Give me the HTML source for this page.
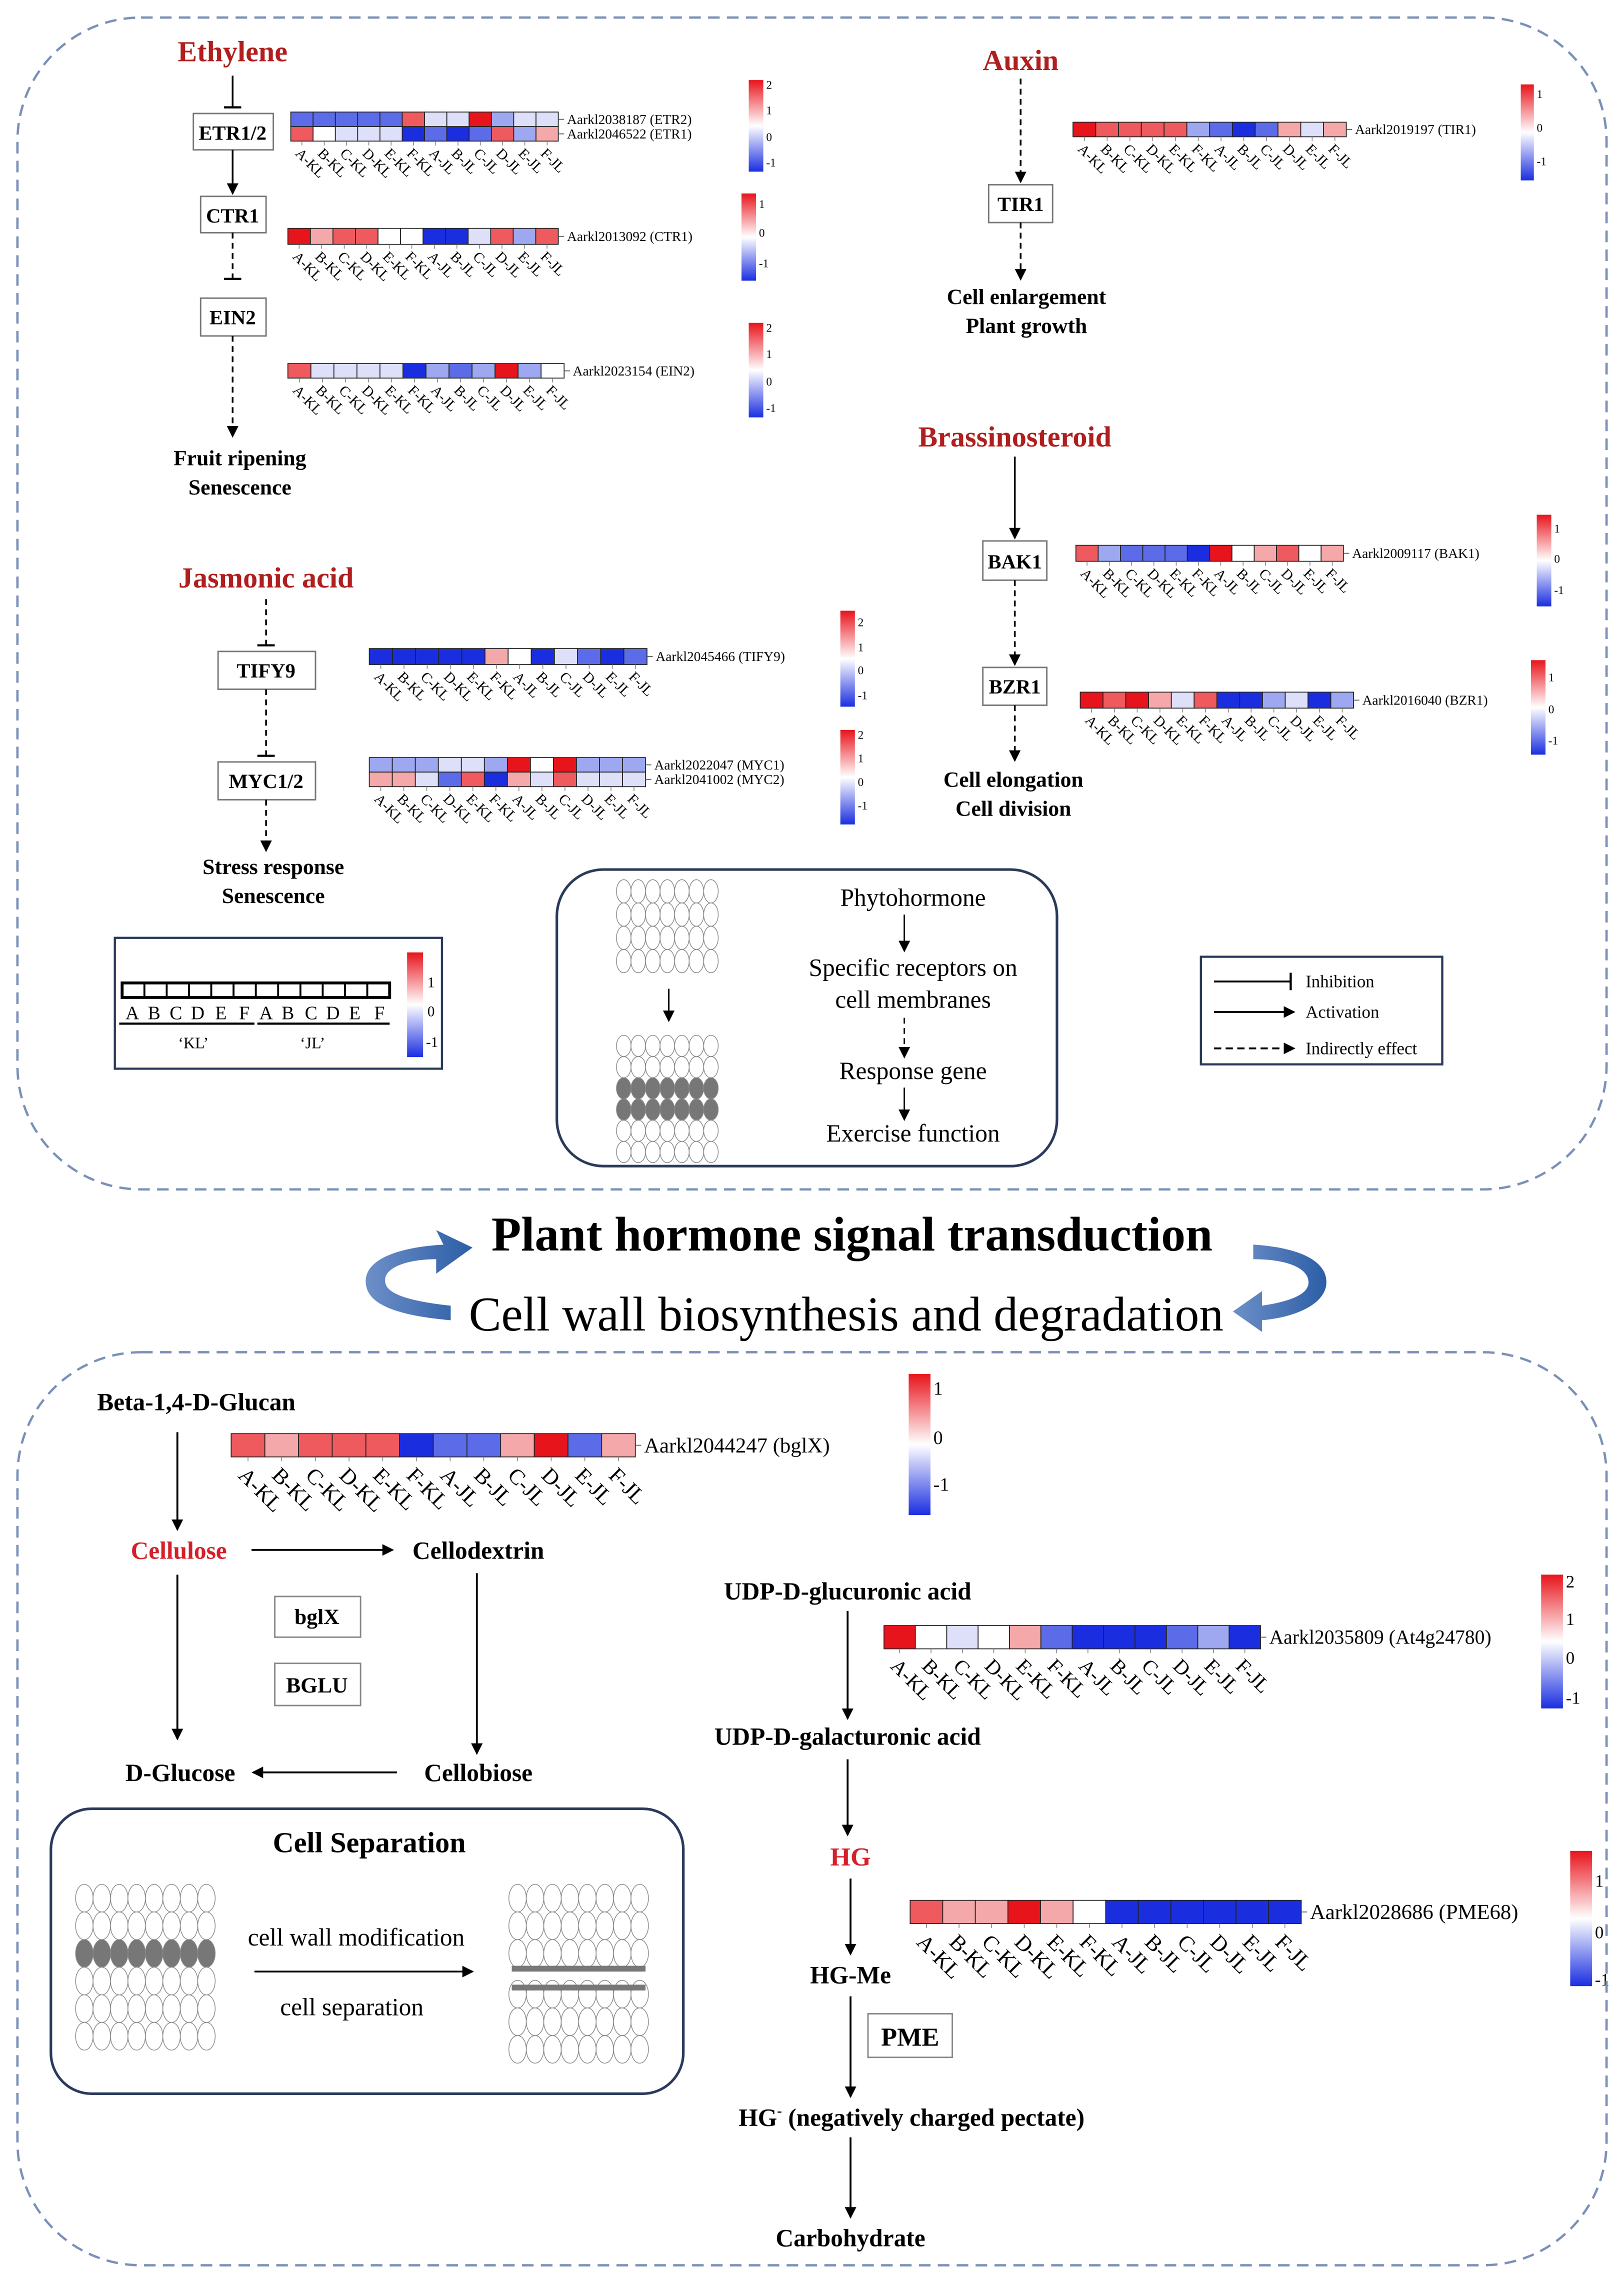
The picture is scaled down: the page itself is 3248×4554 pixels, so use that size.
<!DOCTYPE html>
<html><head><meta charset="utf-8"><style>
html,body{margin:0;padding:0;background:#fff;}
svg{display:block;}
text{font-family:"Liberation Serif",serif;}
.b{font-weight:bold;}
</style></head><body>
<svg id="s" width="3248" height="4554" viewBox="0 0 1117 1566" xmlns="http://www.w3.org/2000/svg">
<defs>
<marker id="ar" markerWidth="8" markerHeight="8" refX="7" refY="4" orient="auto" markerUnits="userSpaceOnUse"><path d="M0,0 L8,4 L0,8 z" fill="#000"/></marker>
<marker id="tb" markerWidth="2" markerHeight="12" refX="1" refY="6" orient="auto" markerUnits="userSpaceOnUse"><rect x="0" y="0" width="1.5" height="12" fill="#000"/></marker>
<linearGradient id="cg" x1="0" y1="0" x2="0" y2="1"><stop offset="0" stop-color="#e8141c"/><stop offset="0.5" stop-color="#ffffff"/><stop offset="1" stop-color="#1a2ee0"/></linearGradient>
<linearGradient id="bl" x1="0" y1="0" x2="1" y2="0"><stop offset="0" stop-color="#6d8fc8"/><stop offset="1" stop-color="#2c5ea6"/></linearGradient>
</defs>
<g id="hm"></g>
<rect x="12" y="12" width="1093" height="806" rx="85" fill="none" stroke="#7a90b8" stroke-width="1.6" stroke-dasharray="8,5"/>
<rect x="12" y="930" width="1093" height="628" rx="85" fill="none" stroke="#7a90b8" stroke-width="1.6" stroke-dasharray="8,5"/>

<g font-size="15" text-anchor="middle" class="b">
<text x="160" y="42" fill="#b01e1e" font-size="20" class="b">Ethylene</text>
<text x="702" y="48" fill="#b01e1e" font-size="20" class="b">Auxin</text>
<text x="698" y="307" fill="#b01e1e" font-size="20" class="b">Brassinosteroid</text>
<text x="183" y="404" fill="#b01e1e" font-size="20" class="b">Jasmonic acid</text>
</g>
<g fill="#fff" stroke="#777" stroke-width="1">
<rect x="133" y="78" width="55" height="25"/><rect x="138" y="135" width="45" height="25"/><rect x="138" y="205" width="45" height="26"/>
<rect x="680" y="127" width="44" height="26"/><rect x="676" y="372" width="44" height="27"/><rect x="676" y="459" width="44" height="26"/>
<rect x="150" y="448" width="67" height="26"/><rect x="150" y="524" width="67" height="26"/>
</g>
<g font-size="14" text-anchor="middle" font-weight="bold">
<text x="160" y="96">ETR1/2</text><text x="160" y="153">CTR1</text><text x="160" y="223">EIN2</text>
<text x="702" y="145">TIR1</text><text x="698" y="391">BAK1</text><text x="698" y="477">BZR1</text>
<text x="183" y="466">TIFY9</text><text x="183" y="542">MYC1/2</text>
</g>
<g font-size="15" text-anchor="middle" font-weight="bold">
<text x="165" y="320">Fruit ripening</text><text x="165" y="340">Senescence</text>
<text x="706" y="209">Cell enlargement</text><text x="706" y="229">Plant growth</text>
<text x="697" y="541">Cell elongation</text><text x="697" y="561">Cell division</text>
<text x="188" y="601">Stress response</text><text x="188" y="621">Senescence</text>
</g>
<g stroke="#000" stroke-width="1.2" fill="none">
<line x1="160" y1="52" x2="160" y2="74" marker-end="url(#tb)"/>
<line x1="160" y1="103" x2="160" y2="133" marker-end="url(#ar)"/>
<line x1="160" y1="160" x2="160" y2="192" marker-end="url(#tb)" stroke-dasharray="4,3"/>
<line x1="160" y1="231" x2="160" y2="300" marker-end="url(#ar)" stroke-dasharray="4,3"/>
<line x1="702" y1="54" x2="702" y2="125" marker-end="url(#ar)" stroke-dasharray="4,3"/>
<line x1="702" y1="153" x2="702" y2="192" marker-end="url(#ar)" stroke-dasharray="4,3"/>
<line x1="698" y1="314" x2="698" y2="370" marker-end="url(#ar)"/>
<line x1="698" y1="399" x2="698" y2="457" marker-end="url(#ar)" stroke-dasharray="4,3"/>
<line x1="698" y1="485" x2="698" y2="523" marker-end="url(#ar)" stroke-dasharray="4,3"/>
<line x1="183" y1="412" x2="183" y2="444" marker-end="url(#tb)" stroke-dasharray="4,3"/>
<line x1="183" y1="474" x2="183" y2="520" marker-end="url(#tb)" stroke-dasharray="4,3"/>
<line x1="183" y1="550" x2="183" y2="585" marker-end="url(#ar)" stroke-dasharray="4,3"/>
</g>

<rect x="79" y="645" width="225" height="90" fill="#fff" stroke="#2a3a5a" stroke-width="1.5"/>
<g font-size="13" text-anchor="middle">
<text x="91" y="701">A</text><text x="106" y="701">B</text><text x="121" y="701">C</text><text x="136" y="701">D</text><text x="152" y="701">E</text><text x="168" y="701">F</text>
<text x="183" y="701">A</text><text x="198" y="701">B</text><text x="214" y="701">C</text><text x="229" y="701">D</text><text x="244" y="701">E</text><text x="261" y="701">F</text>
<text x="133" y="721" font-size="11">‘KL’</text><text x="215" y="721" font-size="11">‘JL’</text>
</g>
<line x1="82" y1="704" x2="175" y2="704" stroke="#000" stroke-width="1.5"/><line x1="177" y1="704" x2="268" y2="704" stroke="#000" stroke-width="1.5"/>
<rect x="280" y="655" width="11" height="72" fill="url(#cg)"/>
<g font-size="10"><text x="294" y="679">1</text><text x="294" y="699">0</text><text x="293" y="720">-1</text></g>
<g id="leg"></g>

<rect x="383" y="598" width="344" height="204" rx="32" fill="#fff" stroke="#2a3a5a" stroke-width="1.8"/>
<g id="cells"></g>
<line x1="460" y1="680" x2="460" y2="702" stroke="#000" marker-end="url(#ar)"/>
<g font-size="17" text-anchor="middle">
<text x="628" y="623">Phytohormone</text>
<text x="628" y="671">Specific receptors on</text><text x="628" y="693">cell membranes</text>
<text x="628" y="742">Response gene</text><text x="628" y="785">Exercise function</text>
</g>
<g stroke="#000" fill="none">
<line x1="622" y1="629" x2="622" y2="654" marker-end="url(#ar)"/>
<line x1="622" y1="700" x2="622" y2="727" stroke-dasharray="4,3" marker-end="url(#ar)"/>
<line x1="622" y1="748" x2="622" y2="770" marker-end="url(#ar)"/>
</g>

<rect x="826" y="658" width="166" height="74" fill="#fff" stroke="#2a3a5a" stroke-width="1.5"/>
<g stroke="#000" stroke-width="1.3" fill="none">
<line x1="835" y1="675" x2="888" y2="675" marker-end="url(#tb)"/>
<line x1="835" y1="696" x2="890" y2="696" marker-end="url(#ar)"/>
<line x1="835" y1="721" x2="890" y2="721" stroke-dasharray="5,3" marker-end="url(#ar)"/>
</g>
<g font-size="12"><text x="898" y="679">Inhibition</text><text x="898" y="700">Activation</text><text x="898" y="725">Indirectly effect</text></g>

<text x="586" y="860" font-size="33.5" text-anchor="middle" font-weight="bold">Plant hormone signal transduction</text>
<text x="582" y="915" font-size="33.5" text-anchor="middle">Cell wall biosynthesis and degradation</text>
<path d="M305,856 C270,858 248,868 252,885 C255,898 275,905 310,908 L310,898 C282,895 266,890 265,882 C263,872 280,866 300,866 L300,876 L325,858 L300,846 z" fill="url(#bl)"/>
<path d="M862,856 C895,858 915,868 912,885 C909,898 890,906 868,908 L868,916 L848,902 L868,888 L868,898 C888,895 900,890 900,882 C900,872 885,866 862,866 z" fill="url(#bl)"/>

<g font-size="17" font-weight="bold" text-anchor="middle">
<text x="135" y="970">Beta-1,4-D-Glucan</text>
<text x="123" y="1072" fill="#d4202a">Cellulose</text>
<text x="329" y="1072">Cellodextrin</text>
<text x="124" y="1225">D-Glucose</text>
<text x="329" y="1225">Cellobiose</text>
<text x="583" y="1100">UDP-D-glucuronic acid</text>
<text x="583" y="1200">UDP-D-galacturonic acid</text>
<text x="585" y="1283" fill="#d4202a" font-size="18">HG</text>
<text x="585" y="1364">HG-Me</text>
<text x="627" y="1462">HG<tspan font-size="10" dy="-7">-</tspan><tspan dy="7"> (negatively charged pectate)</tspan></text>
<text x="585" y="1545">Carbohydrate</text>
</g>
<g stroke="#000" stroke-width="1.3" fill="none">
<line x1="122" y1="985" x2="122" y2="1052" marker-end="url(#ar)"/>
<line x1="173" y1="1066" x2="270" y2="1066" marker-end="url(#ar)"/>
<line x1="122" y1="1083" x2="122" y2="1196" marker-end="url(#ar)"/>
<line x1="328" y1="1082" x2="328" y2="1206" marker-end="url(#ar)"/>
<line x1="273" y1="1219" x2="174" y2="1219" marker-end="url(#ar)"/>
<line x1="583" y1="1108" x2="583" y2="1182" marker-end="url(#ar)"/>
<line x1="583" y1="1210" x2="583" y2="1262" marker-end="url(#ar)"/>
<line x1="585" y1="1292" x2="585" y2="1344" marker-end="url(#ar)"/>
<line x1="585" y1="1373" x2="585" y2="1442" marker-end="url(#ar)"/>
<line x1="585" y1="1470" x2="585" y2="1525" marker-end="url(#ar)"/>
</g>
<g fill="#fff" stroke="#888"><rect x="189" y="1098" width="59" height="28"/><rect x="189" y="1144" width="59" height="29"/><rect x="597" y="1385" width="58" height="30"/></g>
<g font-size="15" font-weight="bold" text-anchor="middle"><text x="218" y="1117">bglX</text><text x="218" y="1164">BGLU</text><text x="626" y="1407" font-size="18">PME</text></g>

<rect x="35" y="1244" width="435" height="196" rx="28" fill="#fff" stroke="#2a3a5a" stroke-width="1.8"/>
<text x="254" y="1274" font-size="20" font-weight="bold" text-anchor="middle">Cell Separation</text>
<g font-size="17" text-anchor="middle"><text x="245" y="1338">cell wall modification</text><text x="242" y="1386">cell separation</text></g>
<line x1="175" y1="1356" x2="325" y2="1356" stroke="#000" stroke-width="1.2" marker-end="url(#ar)"/>
<g id="cells2"></g>
</svg>
<script>
var C={R:"#e8141c",r2:"#ef5a5e",r1:"#f5a8aa",w:"#ffffff",b1:"#dde0f8",b2:"#9ea8f0",b3:"#5c6ce8",B:"#1a2ee0"};
var L=["A-KL","B-KL","C-KL","D-KL","E-KL","F-KL","A-JL","B-JL","C-JL","D-JL","E-JL","F-JL"];
var g=document.getElementById("hm"),NS="http://www.w3.org/2000/svg";
function el(t,a,p,txt){var e=document.createElementNS(NS,t);for(var k in a)e.setAttribute(k,a[k]);if(txt)e.textContent=txt;(p||g).appendChild(e);return e;}
function hm(x,y,w,h,rows,labels,fs,lab){var cw=w/12;
rows.forEach(function(r,i){r.split(" ").forEach(function(c,j){el("rect",{x:x+j*cw,y:y+i*h,width:cw,height:h,fill:C[c],stroke:"#222","stroke-width":0.6});});
el("line",{x1:x+w,y1:y+i*h+h/2,x2:x+w+4,y2:y+i*h+h/2,stroke:"#555","stroke-width":0.6});
el("text",{x:x+w+6,y:y+i*h+h/2+fs*0.35,"font-size":fs*1.05},null,labels[i]);});
var yb=y+rows.length*h;
if(lab){for(var j=0;j<12;j++){var cx=x+j*cw+cw/2;el("line",{x1:cx,y1:yb,x2:cx,y2:yb+3,stroke:"#777","stroke-width":0.5});
el("text",{x:cx-lab*0.5,y:yb+lab*0.9,"font-size":lab,transform:"rotate(45 "+(cx-lab*0.5)+" "+(yb+lab*0.9)+")"},null,L[j]);}}}
hm(200,77,184,10,["b3 b3 b3 b3 b3 r2 b1 b1 R b2 b1 b1","r2 w b1 b1 b1 B b3 B b3 r2 b2 r1"],["Aarkl2038187 (ETR2)","Aarkl2046522 (ETR1)"],9,10);
hm(198,157,186,11,["R r1 r2 r2 w w B B b1 r2 b2 r2"],["Aarkl2013092 (CTR1)"],9,10);
hm(198,250,190,10,["r2 b1 b1 b1 b1 B b2 b3 b2 R b2 w"],["Aarkl2023154 (EIN2)"],9,10);
hm(738,84,188,10,["R r2 r2 r2 r2 b2 b3 B b3 r1 b1 r1"],["Aarkl2019197 (TIR1)"],9,10);
hm(740,375,184,11,["r2 b2 b3 b3 b3 B R w r1 r2 w r1"],["Aarkl2009117 (BAK1)"],9,10);
hm(743,476,188,11,["R r2 R r1 b1 r2 B B b2 b1 B b2"],["Aarkl2016040 (BZR1)"],9,10);
hm(254,446,191,11,["B B B B B r1 w B b1 b3 B b3"],["Aarkl2045466 (TIFY9)"],9,10);
hm(254,521,190,10,["b2 b2 b2 b1 b1 b2 R w R b2 b2 b2","r1 r1 b1 b3 r2 B r1 b1 r2 b1 b1 b1"],["Aarkl2022047 (MYC1)","Aarkl2041002 (MYC2)"],9,10);
hm(159,986,278,16,["r2 r1 r2 r2 r2 B b3 b3 r1 R b3 r1"],["Aarkl2044247 (bglX)"],14,15);
hm(608,1118,259,16,["R w b1 w r1 b3 B B B b3 b2 B"],["Aarkl2035809 (At4g24780)"],13,14);
hm(626,1307,269,16,["r2 r1 r1 R r1 w B B B B B B"],["Aarkl2028686 (PME68)"],14,15);
var lg=document.getElementById("leg");
for(var j=0;j<12;j++)el("rect",{x:84+j*15.33,y:676,width:15.33,height:10,fill:"#fff",stroke:"#000","stroke-width":1.3},lg);
el("rect",{x:84,y:676,width:184,height:10,fill:"none",stroke:"#000","stroke-width":2},lg);
function cb(x,y,w,h,ticks,fs){el("rect",{x:x,y:y,width:w,height:h,fill:"url(#cg)"});ticks.forEach(function(t){el("text",{x:x+w+2,y:y+t[1]*h+fs*0.35,"font-size":fs},null,t[0]);});}
cb(515,55,10,63,[["2",0.05],["1",0.33],["0",0.62],["-1",0.9]],8);
cb(510,133,10,60,[["1",0.12],["0",0.45],["-1",0.8]],8);
cb(515,222,10,65,[["2",0.05],["1",0.33],["0",0.62],["-1",0.9]],8);
cb(1046,58,9,66,[["1",0.1],["0",0.45],["-1",0.8]],8);
cb(1057,354,10,63,[["1",0.15],["0",0.48],["-1",0.82]],8);
cb(1053,454,10,65,[["1",0.18],["0",0.52],["-1",0.85]],8);
cb(578,420,10,66,[["2",0.12],["1",0.38],["0",0.62],["-1",0.88]],8);
cb(578,502,10,65,[["2",0.05],["1",0.3],["0",0.55],["-1",0.8]],8);
cb(625,945,15,97,[["1",0.1],["0",0.45],["-1",0.78]],13);
cb(1060,1083,15,92,[["2",0.05],["1",0.33],["0",0.62],["-1",0.92]],12);
cb(1080,1273,15,93,[["1",0.22],["0",0.6],["-1",0.95]],12);
var cg=document.getElementById("cells"),cg2=document.getElementById("cells2");
function grid(p,x0,y0,cols,rows,rx,ry,gray){for(var r=0;r<rows;r++)for(var c=0;c<cols;c++)el("ellipse",{cx:x0+rx+c*rx*2,cy:y0+ry+r*ry*2,rx:rx,ry:ry,fill:gray.indexOf(r)>=0?"#777":"#fff",stroke:"#888","stroke-width":0.5},p);}
grid(cg,424,605,7,4,5,8,[]);
grid(cg,424,712,7,6,5,7.3,[2,3]);
grid(cg2,52,1296,8,6,6,9.5,[2]);
grid(cg2,350,1296,8,3,6,9.5,[]);
grid(cg2,350,1362,8,3,6,9.5,[]);
el("rect",{x:352,y:1352,width:92,height:4,fill:"#777"},cg2);
el("rect",{x:352,y:1365,width:92,height:4,fill:"#777"},cg2);
</script>
</body></html>
